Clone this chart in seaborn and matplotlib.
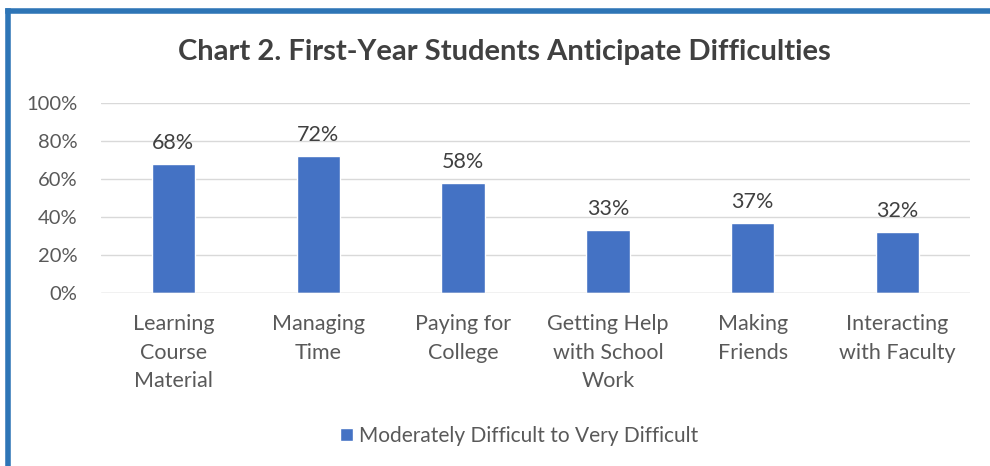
import matplotlib
matplotlib.use("Agg")
import matplotlib.pyplot as plt
from matplotlib.lines import Line2D
import seaborn as sns
import pandas as pd

# dados do gráfico
categorias = ["Learning\nCourse\nMaterial", "Managing\nTime", "Paying for\nCollege",
              "Getting Help\nwith School\nWork", "Making\nFriends", "Interacting\nwith Faculty"]
valores = [68, 72, 58, 33, 37, 32]
serie = "Moderately Difficult to Very Difficult"
y_ticks = [0, 20, 40, 60, 80, 100]

df = pd.DataFrame({"categoria": categorias, "valor": valores, "serie": serie})

sns.set_style("white")
plt.rcParams["font.family"] = ["Lato", "DejaVu Sans"]

cinza = "#595959"
azul = "#4472C4"

fig = plt.figure(figsize=(9.9, 4.66), dpi=100)
ax = fig.add_axes([101 / 990, 173 / 466, 869 / 990, 190 / 466])

sns.barplot(data=df, x="categoria", y="valor", hue="serie", palette=[azul],
            saturation=1, width=0.3, ax=ax, legend=True)

for c in ax.containers:
    ax.bar_label(c, labels=[f"{v}%" for v in valores], padding=8, fontsize=15.5, color="#404040")

ax.set_ylim(0, 100)
ax.set_yticks(y_ticks)
ax.set_yticklabels([f"{t}%" for t in y_ticks], fontsize=14.5, color=cinza)
ax.tick_params(axis="x", labelsize=15.5, labelcolor=cinza, length=0, pad=15)
ax.tick_params(axis="y", length=0, pad=17)
for t in ax.get_xticklabels():
    t.set_linespacing(1.55)
ax.yaxis.grid(True, color="#D9D9D9", linewidth=1)
ax.set_axisbelow(True)
for s in ax.spines.values():
    s.set_visible(False)
ax.axhline(0, color="#D9D9D9", linewidth=1)
ax.set_xlabel("")
ax.set_ylabel("")

leg = ax.legend(loc="upper center", bbox_to_anchor=(0.5 - 16 / 869, -0.6), frameon=False,
                fontsize=15, handlelength=0.6, handleheight=0.6, handletextpad=0.3)
for t in leg.get_texts():
    t.set_color(cinza)

fig.text(504 / 990, 1 - 52 / 466, "Chart 2. First-Year Students Anticipate Difficulties",
         ha="center", va="center", fontsize=21, fontweight="bold", color="#404040")

# moldura azul (esquerda e topo)
fig.add_artist(Line2D([8 / 990, 8 / 990], [0, 1 - 11 / 466], color="#2E75B6", linewidth=4,
                      transform=fig.transFigure, solid_capstyle="projecting"))
fig.add_artist(Line2D([8 / 990, 1], [1 - 11 / 466, 1 - 11 / 466], color="#2E75B6", linewidth=4,
                      transform=fig.transFigure, solid_capstyle="projecting"))

fig.savefig("out.png", dpi=100)
